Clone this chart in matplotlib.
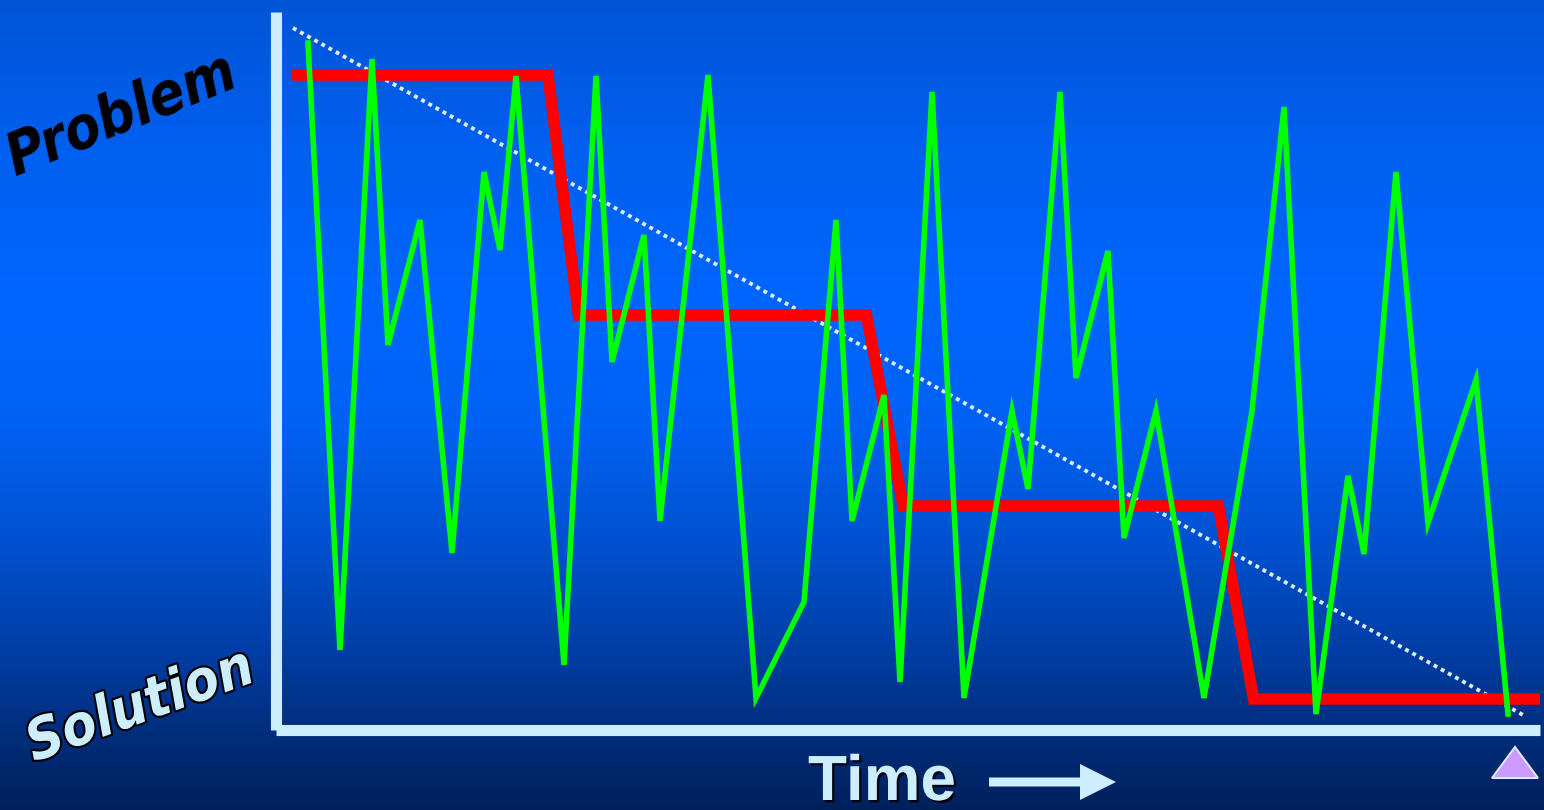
import numpy as np
import matplotlib
matplotlib.use("Agg")
import matplotlib.pyplot as plt
from matplotlib import patheffects as pe
from matplotlib.patches import Polygon, FancyArrow
from matplotlib import font_manager as fm

# ---------------- data ----------------
# time index of each vertex of the green "actual" line
green_t = [0, 2, 4, 5, 7, 9, 11, 12, 13, 16, 18, 19, 21, 22, 25, 28, 31, 33, 34, 36,
           37, 39, 41, 44, 45, 47, 48, 50, 51, 53, 56, 59, 61, 63, 65, 66, 68, 70, 73, 75]
# problem level (0 = solution, 718 = top of axis)
green_level = [687, 80, 671, 385, 510, 177, 558, 480, 654, 65, 654, 368, 495, 209, 655, 32, 128, 510, 209, 335,
               48, 638, 32, 319, 241, 638, 352, 479, 192, 319, 32, 319, 623, 16, 254, 176, 558, 207, 350, 16]

# red step line (staged improvement)
step_t = [-1, 15, 16.9, 34.9, 37.2, 56.9, 59.1, 77]
step_level = [655, 655, 415, 415, 224, 224, 31, 31]

# dotted trend line
trend_t = [-0.94, 75.94]
trend_level = [702, 15]

x_limits = (-2, 77)
y_limits = (0, 718)

label_top = "Problem"
label_bottom = "Solution"
label_x = "Time"

# ---------------- figure ----------------
W, H = 1544, 810
fig = plt.figure(figsize=(W / 100, H / 100), dpi=100)

# background gradient (decoration) in pixel coordinates
bg = fig.add_axes([0, 0, 1, 1])
bg.set_xlim(0, W)
bg.set_ylim(H, 0)
bg.axis("off")
stops_y = [0, 150, 300, 420, 550, 650, 730, 810]
stops_c = [(0, 84, 214), (0, 96, 240), (0, 102, 255), (0, 98, 245),
           (0, 80, 205), (0, 62, 165), (0, 46, 125), (0, 32, 90)]
rows = np.arange(H)
grad = np.zeros((H, 1, 3))
for k in range(3):
    grad[:, 0, k] = np.interp(rows, stops_y, [c[k] for c in stops_c]) / 255.0
bg.imshow(grad, extent=(0, W, H, 0), aspect="auto", zorder=0, interpolation="bilinear")

names = {f.name for f in fm.fontManager.ttflist}
narrow = "Liberation Sans Narrow" if "Liberation Sans Narrow" in names else None
cond_family = [narrow, "DejaVu Sans"] if narrow else ["DejaVu Sans"]

renderer = fig.canvas.get_renderer()


def fit_text(x, y, s, target_w, rot, **kw):
    t = bg.text(x, y, s, fontsize=50, ha="left", va="baseline", rotation=0,
                rotation_mode="anchor", **kw)
    w = t.get_window_extent(renderer=renderer).width
    t.set_fontsize(50 * target_w / w)
    t.set_rotation(rot)
    return t


fit_text(16, 176, label_top, 244, 22, family=cond_family, fontweight="bold",
         fontstyle="italic", fontstretch="condensed", color="black")
fit_text(34, 762, label_bottom, 238, 20, family=cond_family, fontweight="bold",
         fontstyle="italic", fontstretch="condensed", color="#CCEEFF",
         path_effects=[pe.withStroke(linewidth=3, foreground="black")])

bg.text(808, 800, label_x, fontsize=46, fontweight="bold", color="#CCEEFF",
        family=["Liberation Sans", "DejaVu Sans"], ha="left", va="baseline",
        path_effects=[pe.SimplePatchShadow(offset=(1.6, -1.6), shadow_rgbFace="black", alpha=0.9),
                      pe.Normal()])
bg.add_patch(FancyArrow(989, 782, 127, 0, width=9, head_width=36, head_length=36,
                        length_includes_head=True, color="#CCEEFF", lw=0))
bg.add_patch(Polygon([[1492, 778], [1538, 778], [1515, 747]], closed=True,
                     facecolor="#CC99FF", edgecolor="#DDE6FF", lw=1.5))

# ---------------- main axes ----------------
ax = fig.add_axes([276 / W, (H - 730) / H, 1264 / W, 718 / H])
ax.set_zorder(2)
ax.patch.set_alpha(0)
ax.set_xlim(*x_limits)
ax.set_ylim(*y_limits)
ax.set_xticks([])
ax.set_yticks([])
for side in ("top", "right"):
    ax.spines[side].set_visible(False)
for side in ("left", "bottom"):
    ax.spines[side].set_color("#CCECFF")
    ax.spines[side].set_linewidth(8)
    ax.spines[side].set_capstyle("butt")

ax.plot(trend_t, trend_level, color="#DDEEFF", lw=2.8, linestyle=(0, (1, 1.1)),
        dash_capstyle="butt", zorder=2, clip_on=False)
ax.plot(step_t, step_level, color="#FF0000", lw=8.3, solid_capstyle="butt",
        solid_joinstyle="miter", zorder=3, clip_on=False)
ax.plot(green_t, green_level, color="#00FF00", lw=4.0, solid_joinstyle="miter",
        zorder=4, clip_on=False)

fig.savefig("out.png", dpi=100)
